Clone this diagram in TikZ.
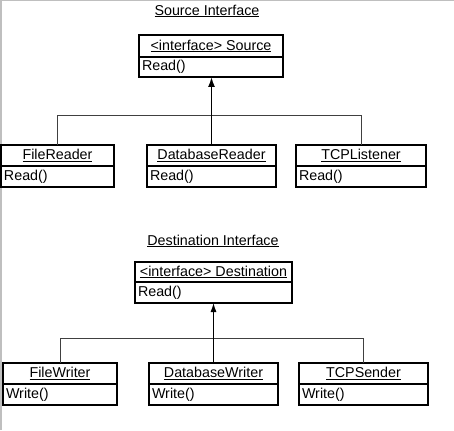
\documentclass[tikz,border=0pt]{standalone}
\usepackage{fontspec}
\setmainfont{Liberation Sans}
\usetikzlibrary{arrows.meta}
\newcommand\umlbox[8]{%
 \pgfmathsetmacro\umW{#3-#2}%
 \pgfmathsetmacro\umX{(#2+#3)/2}%
 \pgfmathsetmacro\umHa{#5-#4}%
 \pgfmathsetmacro\umHb{#6-#5}%
 \pgfmathsetmacro\umYa{(#4+#5)/2}%
 \pgfmathsetmacro\umYb{(#5+#6)/2}%
 \pgfmathsetmacro\umTW{#3-#2-6}%
 \node[hdr, minimum width=\umW pt, minimum height=\umHa pt] (#1h) at (\umX,\umYa) {\underline{#7}};
 \node[bdy, minimum width=\umW pt, minimum height=\umHb pt, text width=\umTW pt] (#1b) at (\umX,\umYb) {#8};
}
\begin{document}
\begin{tikzpicture}[x=1pt,y=-1pt,
  txt/.style={font=\fontsize{14.3}{16}\selectfont},
  hdr/.style={txt, draw=black, line width=1.3pt, rectangle, inner sep=0pt, outer sep=0pt, align=center},
  bdy/.style={txt, draw=black, line width=1.3pt, rectangle, inner xsep=3pt, inner ysep=0pt, outer sep=0pt, align=left},
  conn/.style={draw=black!75, line width=1pt},
  inh/.style={draw=black, line width=1.5pt, -{Latex[length=10pt,width=7pt]}},
  inh2/.style={draw=black, line width=1pt, -{Latex[length=9pt,width=6pt]}}]
\useasboundingbox (0,0) rectangle (454,430);
\draw[gray!50, line width=1.5pt] (0.75,430) -- (0.75,0.75) -- (454,0.75);
% Source
\node[txt] (t1) at (207,11) {\underline{Source Interface}};
\umlbox{src}{139}{283}{35}{57}{77}{<interface> Source}{Read()}
\umlbox{fr}{1}{114}{145}{166}{187}{FileReader}{Read()}
\umlbox{dr}{147}{276}{145}{166}{187}{DatabaseReader}{Read()}
\umlbox{tl}{296}{426}{145}{166}{187}{TCPListener}{Read()}
\coordinate (j1) at (211.5,116);
\draw[conn] (frh.north) |- (j1);
\draw[conn] (tlh.north) |- (j1);
\draw[inh] (drh.north) -- (srcb.south -| drh.north);
% Destination
\node[txt] (t2) at (213,241) {\underline{Destination Interface}};
\umlbox{dst}{135}{292}{262}{282}{303}{<interface> Destination}{Read()}
\umlbox{fw}{3}{117}{363}{384}{405}{FileWriter}{Write()}
\umlbox{dw}{149}{278}{363}{384}{405}{DatabaseWriter}{Write()}
\umlbox{ts}{299}{428}{363}{384}{405}{TCPSender}{Write()}
\coordinate (j2) at (213.5,338);
\draw[conn] (fwh.north) |- (j2);
\draw[conn] (tsh.north) |- (j2);
\draw[inh2] (dwh.north) -- (dstb.south -| dwh.north);
\end{tikzpicture}
\end{document}
